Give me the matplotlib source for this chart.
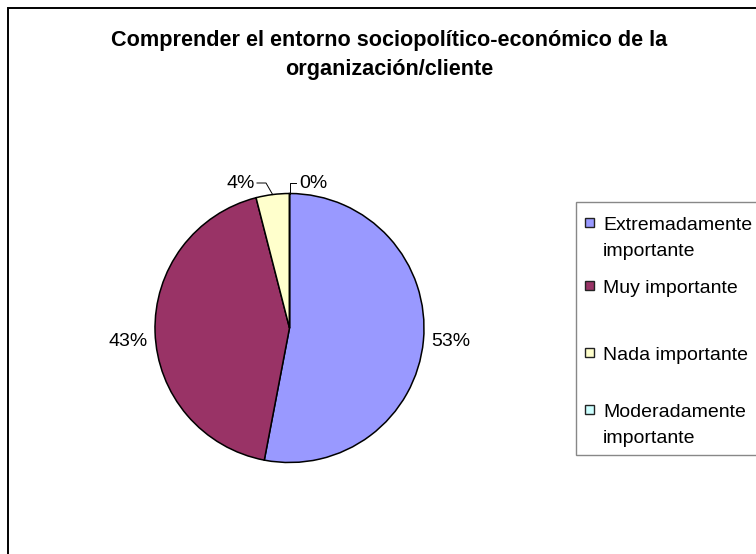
import matplotlib
matplotlib.use("Agg")
import matplotlib.pyplot as plt
from matplotlib.patches import Rectangle
import numpy as np

plt.rcParams['font.family'] = ['Liberation Sans', 'DejaVu Sans']

# --- data -------------------------------------------------------------
title_lines = ["Comprender el entorno sociopolítico-económico de la",
               "organización/cliente"]
categories = ["Extremadamente\nimportante", "Muy importante",
              "Nada importante", "Moderadamente\nimportante"]
percentages = [53, 43, 4, 0]
colors = ["#9999FF", "#993366", "#FFFFCC", "#CCFFFF"]

# --- canvas in pixel units ----------------------------------------------
W, H = 756, 554
fig = plt.figure(figsize=(W / 100, H / 100), dpi=100)
fig.patch.set_facecolor("white")
ax = fig.add_axes([0, 0, 1, 1])


def Y(y):
    """Convert a top-down pixel row to axes units."""
    return H - y


cx, cy, r = 289.5, 328, 134.5
wedges, _ = ax.pie(percentages, colors=colors, startangle=90,
                   counterclock=False, center=(cx, Y(cy)), radius=r,
                   wedgeprops=dict(edgecolor="black", linewidth=1.1))
ax.set_xlim(0, W)
ax.set_ylim(0, H)
ax.set_aspect("auto")
ax.axis("off")

# chart-area frame (top and left edges)
ax.plot([8, 8, W + 5], [Y(H + 5), Y(8), Y(8)], color="black", lw=1.4,
        solid_joinstyle="miter", clip_on=False)

# title
ax.text(389, Y(46), title_lines[0], ha="center", va="baseline",
        fontsize=15.6, fontweight="bold")
ax.text(389, Y(75), title_lines[1], ha="center", va="baseline",
        fontsize=15.6, fontweight="bold")


# data labels
def edge_point(w):
    mid = np.deg2rad((w.theta1 + w.theta2) / 2)
    return cx + r * np.cos(mid), Y(cy) + r * np.sin(mid)


label_fs = 14
lab = [f"{p}%" for p in percentages]
ax.text(431, Y(341), lab[0], ha="left", va="center", fontsize=label_fs)
ax.text(148, Y(341), lab[1], ha="right", va="center", fontsize=label_fs)

# small slices get leader lines
ax.text(241, Y(183), lab[2], ha="center", va="center", fontsize=label_fs)
ex, ey = edge_point(wedges[2])
ax.plot([257, 266, ex], [Y(183), Y(183), ey], color="black", lw=0.7)

ax.text(299, Y(183), lab[3], ha="left", va="center", fontsize=label_fs)
ex, ey = edge_point(wedges[3])
ax.plot([ex, ex, 296], [ey, Y(183), Y(183)], color="black", lw=0.7)

# legend
ax.add_patch(Rectangle((576, Y(455)), 200, 253, facecolor="white",
                       edgecolor="#888888", lw=1.0, clip_on=False))
baselines = [230, 293, 360, 417]
for label, col, base in zip(categories, colors, baselines):
    mc = base - 8
    ax.add_patch(Rectangle((585, Y(mc + 4.5)), 9, 9, facecolor=col,
                           edgecolor="#222222", lw=1.0))
    for i, line in enumerate(label.split("\n")):
        ax.text(603, Y(base + 26 * i), line, ha="left", va="baseline",
                fontsize=14)

fig.savefig("out.png", dpi=100, facecolor="white")
